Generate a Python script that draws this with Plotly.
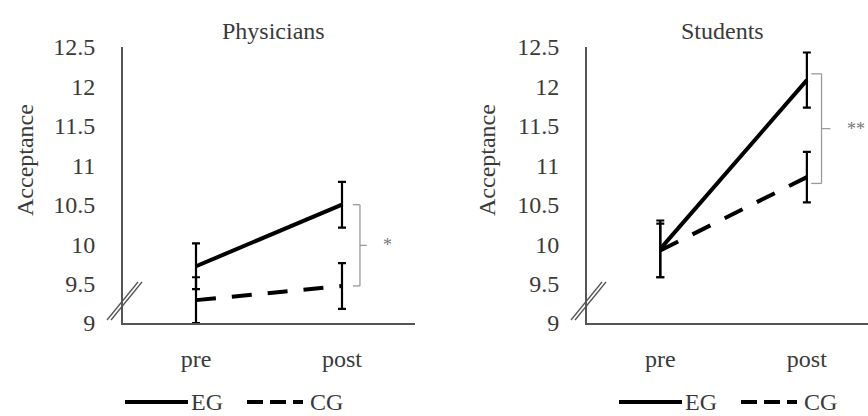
import plotly.graph_objects as go

W, H = 868, 416

times = ["pre", "post"]
groups = ["EG", "CG"]

# Physicians
phys_eg = [9.72, 10.50]
phys_eg_err = [0.29, 0.29]
phys_cg = [9.29, 9.47]
phys_cg_err = [0.29, 0.29]

# Students
stud_eg = [9.94, 12.08]
stud_eg_err = [0.36, 0.35]
stud_cg = [9.92, 10.85]
stud_cg_err = [0.34, 0.32]

ytick_vals = [9, 9.5, 10, 10.5, 11, 11.5, 12, 12.5]
ytick_text = ["9", "9.5", "10", "10.5", "11", "11.5", "12", "12.5"]

panel_titles = ["Physicians", "Students"]
sig_labels = ["*", "**"]

FONT = "Liberation Serif"
TXT = "#3a3a3a"
AX = "#555555"

def px(x):
    return x / W

def py(y):
    return 1 - y / H

fig = go.Figure()

panels = [
    (phys_eg, phys_eg_err, phys_cg, phys_cg_err, "x", "y"),
    (stud_eg, stud_eg_err, stud_cg, stud_cg_err, "x2", "y2"),
]
for eg, ege, cg, cge, xa, ya in panels:
    fig.add_trace(go.Scatter(
        x=times, y=cg, mode="lines", name="CG", xaxis=xa, yaxis=ya,
        line=dict(color="black", width=4, dash="20px,16px"),
        error_y=dict(type="data", array=cge, color="black", thickness=2.2, width=4),
        showlegend=False,
    ))
    fig.add_trace(go.Scatter(
        x=times, y=eg, mode="lines", name="EG", xaxis=xa, yaxis=ya,
        line=dict(color="black", width=4),
        error_y=dict(type="data", array=ege, color="black", thickness=2.2, width=4),
        showlegend=False,
    ))

ydom = [py(323), py(47)]
common_y = dict(
    range=[9, 12.5], domain=ydom, showline=True, linecolor=AX, linewidth=2,
    showgrid=False, zeroline=False, ticks="", tickvals=ytick_vals, ticktext=ytick_text,
    tickfont=dict(family=FONT, size=24, color=TXT), ticklabelstandoff=21, automargin=False,
)
common_x = dict(
    type="category", categoryorder="array", categoryarray=times,
    showline=True, linecolor=AX, linewidth=2, showgrid=False, zeroline=False,
    ticks="", tickfont=dict(family=FONT, size=24, color=TXT), ticklabelstandoff=13,
    automargin=False,
)
fig.update_layout(
    width=W, height=H, margin=dict(l=0, r=0, t=0, b=0, pad=0, autoexpand=False),
    paper_bgcolor="white", plot_bgcolor="white", showlegend=False,
    xaxis=dict(common_x, domain=[px(123), px(415)], range=[-0.5, 1.5]),
    yaxis=dict(common_y, anchor="x"),
    xaxis2=dict(common_x, domain=[px(587), 1.0], range=[-0.5, 1.417], anchor="y2"),
    yaxis2=dict(common_y, anchor="x2"),
)

annotations = []
shapes = []

def note(text, x, y, size, xref="paper", yref="paper", xanchor="center", color=TXT, angle=0):
    annotations.append(dict(text=text, x=x, y=y, xref=xref, yref=yref, xanchor=xanchor,
                            yanchor="middle", textangle=angle, showarrow=False,
                            font=dict(family=FONT, size=size, color=color)))

# titles and y-axis titles
for title, cx, ylab_x in [(panel_titles[0], 273, 25), (panel_titles[1], 722, 487)]:
    note(title, px(cx), py(31), 24)
    note("Acceptance", px(ylab_x), py(160), 24, angle=-90)

# significance brackets (data coords)
brackets = [
    ("x", "y", phys_eg[1], phys_cg[1], 1.075, 1.123, 1.17, 1.31, "center", sig_labels[0]),
    ("x2", "y2", stud_eg[1] + 0.08, stud_cg[1] - 0.08, 1.03, 1.10, 1.16, 1.26, "left", sig_labels[1]),
]
BR = "#9a9a9a"
for xa, ya, ytop, ybot, xl, xm, xr, xs, anc, lab in brackets:
    ymid = (ytop + ybot) / 2
    for (x0, x1, y0, y1) in [(xm, xm, ytop, ybot), (xl, xm, ytop, ytop),
                             (xl, xm, ybot, ybot), (xm, xr, ymid, ymid)]:
        shapes.append(dict(type="line", xref=xa, yref=ya, x0=x0, x1=x1, y0=y0, y1=y1,
                           line=dict(color=BR, width=1.3)))
    note(lab, xs, ymid, 18, xref=xa, yref=ya, xanchor=anc, color="#777777")

# axis break marks
for ax_x in [123, 587]:
    for off in [0, 4]:
        shapes.append(dict(type="line", xref="paper", yref="paper",
                           x0=px(ax_x - 16 + off), y0=py(320),
                           x1=px(ax_x + 15 + off), y1=py(282),
                           line=dict(color=AX, width=1.3)))

# manual legends
for x0 in [125, 619]:
    shapes.append(dict(type="line", xref="paper", yref="paper",
                       x0=px(x0), x1=px(x0 + 63), y0=py(402), y1=py(402),
                       line=dict(color="black", width=4)))
    note(groups[0], px(x0 + 64), py(402), 24, xanchor="left")
    shapes.append(dict(type="line", xref="paper", yref="paper",
                       x0=px(x0 + 122), x1=px(x0 + 178), y0=py(402), y1=py(402),
                       line=dict(color="black", width=4, dash="16px,7px")))
    note(groups[1], px(x0 + 183), py(402), 24, xanchor="left")

fig.update_layout(annotations=annotations, shapes=shapes)
fig.write_html("out.html", config={"displayModeBar": False},
               post_script="document.body.style.margin='0';")
